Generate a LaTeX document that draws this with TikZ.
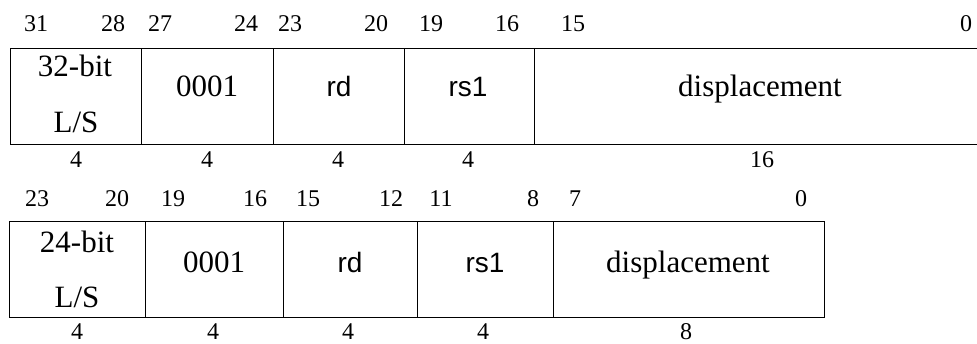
\documentclass[tikz,border=0pt]{standalone}
\usepackage{fontspec}
\setmainfont{Liberation Serif}
\newfontfamily\arialfont{Liberation Sans}
\tikzset{
  field/.style={draw, line width=1.1pt, rectangle, inner sep=0pt, anchor=north west},
  boxtxt/.style={anchor=base, inner sep=0pt, font=\fontsize{31}{31}\selectfont},
  sanstxt/.style={anchor=base, inner sep=0pt, font=\arialfont\fontsize{28}{28}\selectfont},
  bitlbl/.style={anchor=base, inner sep=0pt, font=\fontsize{24}{24}\selectfont},
}
\begin{document}
\begin{tikzpicture}[x=1pt,y=-1pt]
\useasboundingbox (0,0) rectangle (977,344);
\begin{scope}
\clip (0,0) rectangle (977,344);
% top row
\node[field, minimum width=131pt, minimum height=96pt] (a1) at (10,48) {};
\node[field, minimum width=132pt, minimum height=96pt] (a2) at (141,48) {};
\node[field, minimum width=131pt, minimum height=96pt] (a3) at (273,48) {};
\node[field, minimum width=130pt, minimum height=96pt] (a4) at (404,48) {};
\node[field, minimum width=452pt, minimum height=96pt] (a5) at (534,48) {};
\end{scope}
\node[boxtxt] (t1a) at (75,77) {32-bit};
\node[boxtxt] (t1b) at (76,133) {L/S};
\node[boxtxt] (t2) at (207,97) {0001};
\node[sanstxt] (t3) at (339,97) {rd};
\node[sanstxt] (t4) at (468,97) {rs1};
\node[boxtxt] (t5) at (760,97) {displacement};
% top bit labels
\node[bitlbl] (b31) at (36,32) {31};
\node[bitlbl] (b28) at (113,32) {28};
\node[bitlbl] (b27) at (160,32) {27};
\node[bitlbl] (b24) at (246,32) {24};
\node[bitlbl] (b23) at (290,32) {23};
\node[bitlbl] (b20) at (376,32) {20};
\node[bitlbl] (b19) at (431,32) {19};
\node[bitlbl] (b16) at (507,32) {16};
\node[bitlbl] (b15) at (573,32) {15};
\node[bitlbl] (b0) at (966,32) {0};
% top widths
\node[bitlbl] (w1) at (76,168) {4};
\node[bitlbl] (w2) at (207,168) {4};
\node[bitlbl] (w3) at (338,168) {4};
\node[bitlbl] (w4) at (468,168) {4};
\node[bitlbl] (w5) at (762,168) {16};
% bottom row
\node[field, minimum width=136pt, minimum height=96pt] (c1) at (9,221) {};
\node[field, minimum width=138pt, minimum height=96pt] (c2) at (145,221) {};
\node[field, minimum width=134pt, minimum height=96pt] (c3) at (283,221) {};
\node[field, minimum width=136pt, minimum height=96pt] (c4) at (417,221) {};
\node[field, minimum width=271pt, minimum height=96pt] (c5) at (553,221) {};
\node[boxtxt] (u1a) at (77,253) {24-bit};
\node[boxtxt] (u1b) at (77,308) {L/S};
\node[boxtxt] (u2) at (214,273) {0001};
\node[sanstxt] (u3) at (350,273) {rd};
\node[sanstxt] (u4) at (485,273) {rs1};
\node[boxtxt] (u5) at (688,273) {displacement};
% bottom bit labels
\node[bitlbl] (d23) at (37,207) {23};
\node[bitlbl] (d20) at (117,207) {20};
\node[bitlbl] (d19) at (173,207) {19};
\node[bitlbl] (d16) at (255,207) {16};
\node[bitlbl] (d15) at (308,207) {15};
\node[bitlbl] (d12) at (391,207) {12};
\node[bitlbl] (d11) at (441,207) {11};
\node[bitlbl] (d8) at (533,207) {8};
\node[bitlbl] (d7) at (575,207) {7};
\node[bitlbl] (d0) at (801,207) {0};
% bottom widths
\node[bitlbl] (v1) at (77,340) {4};
\node[bitlbl] (v2) at (213,340) {4};
\node[bitlbl] (v3) at (348,340) {4};
\node[bitlbl] (v4) at (483,340) {4};
\node[bitlbl] (v5) at (686,340) {8};
\end{tikzpicture}
\end{document}
